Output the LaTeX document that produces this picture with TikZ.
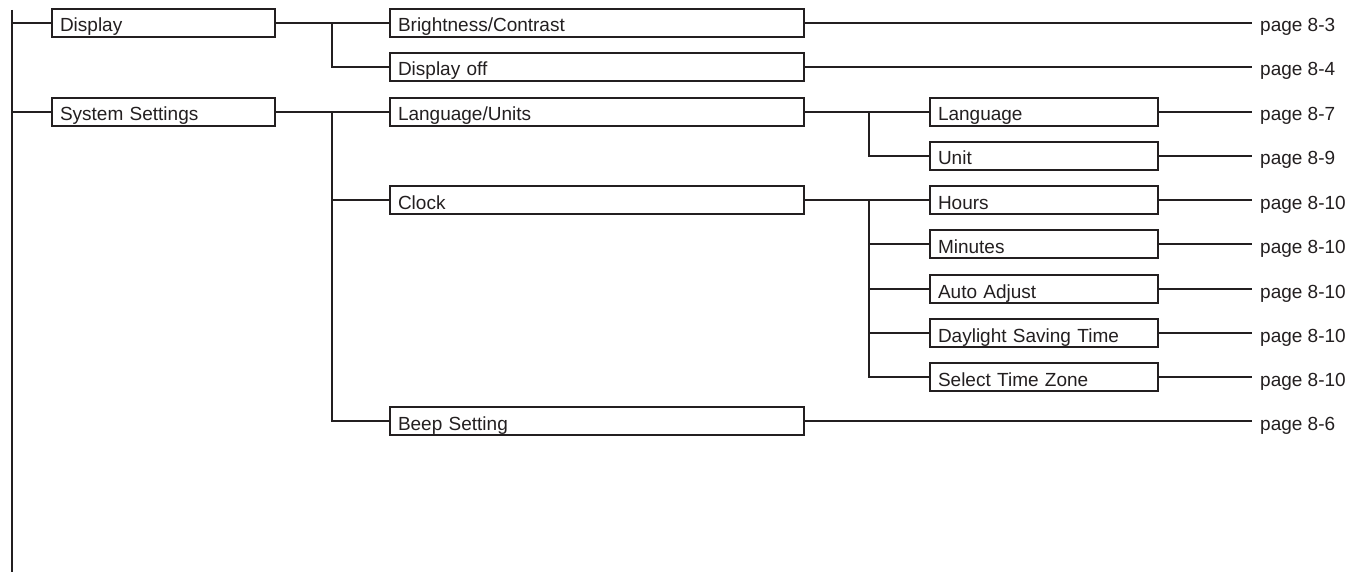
\documentclass[tikz,border=0pt]{standalone}
\usepackage{fontspec}
\setmainfont{Liberation Sans}
\definecolor{ink}{HTML}{231F20}
\begin{document}
\begin{tikzpicture}[x=1pt,y=-1pt,
  conn/.style={draw=ink, line width=2pt},
  box/.style={draw=ink, line width=2pt, anchor=west, minimum height=28pt,
    inner xsep=8pt, inner ysep=0pt, text height=18pt, text depth=0pt,
    align=left, font=\fontsize{19}{22}\selectfont, text=ink},
  boxA/.style={box, text width=207pt},
  boxB/.style={box, text width=398pt},
  boxC/.style={box, text width=212pt},
  pagelbl/.style={anchor=west, inner xsep=8pt, inner ysep=0pt, text height=18pt,
    text depth=0pt, font=\fontsize{19}{22}\selectfont, text=ink}
]
\useasboundingbox (0,0) rectangle (1356,572);
\fill[white] (0,0) rectangle (1356,572);

% positions
\coordinate (top) at (12,10);
\coordinate (bot) at (12,572);
\coordinate (jA) at (332,0);
\coordinate (jB) at (869,0);

% level 1
\node[boxA] (display) at (51,23) {Display};
\node[boxA] (sys) at (51,112) {System Settings};
% level 2
\node[boxB] (bright) at (389,23) {Brightness/Contrast};
\node[boxB] (off) at (389,67) {Display off};
\node[boxB] (lu) at (389,112) {Language/Units};
\node[boxB] (clock) at (389,200) {Clock};
\node[boxB] (beep) at (389,421) {Beep Setting};
% level 3
\node[boxC] (lang) at (929,112) {Language};
\node[boxC] (unit) at (929,156) {Unit};
\node[boxC] (hours) at (929,200) {Hours};
\node[boxC] (mins) at (929,244) {Minutes};
\node[boxC] (auto) at (929,289) {Auto Adjust};
\node[boxC] (dst) at (929,333) {Daylight Saving Time};
\node[boxC] (stz) at (929,377) {Select Time Zone};
% page labels
\node[pagelbl] (p1) at (1252,23) {page 8-3};
\node[pagelbl] (p2) at (1252,67) {page 8-4};
\node[pagelbl] (p3) at (1252,112) {page 8-7};
\node[pagelbl] (p4) at (1252,156) {page 8-9};
\node[pagelbl] (p5) at (1252,200) {page 8-10};
\node[pagelbl] (p6) at (1252,244) {page 8-10};
\node[pagelbl] (p7) at (1252,289) {page 8-10};
\node[pagelbl] (p8) at (1252,333) {page 8-10};
\node[pagelbl] (p9) at (1252,377) {page 8-10};
\node[pagelbl] (p10) at (1252,421) {page 8-6};

% main trunk
\draw[conn] (top) -- (bot);
\draw[conn] (display.west -| top) -- (display.west);
\draw[conn] (sys.west -| top) -- (sys.west);

% display branch
\draw[conn] (display.east) -- (bright.west);
\draw[conn] (display.east -| jA) |- (off.west);

% system settings branch
\draw[conn] (sys.east) -- (lu.west);
\draw[conn] (sys.east -| jA) |- (clock.west);
\draw[conn] (sys.east -| jA) |- (beep.west);

% language/units branch
\draw[conn] (lu.east) -- (lang.west);
\draw[conn] (lu.east -| jB) |- (unit.west);

% clock branch
\draw[conn] (clock.east) -- (hours.west);
\draw[conn] (clock.east -| jB) |- (stz.west);
\draw[conn] (mins.west -| jB) -- (mins.west);
\draw[conn] (auto.west -| jB) -- (auto.west);
\draw[conn] (dst.west -| jB) -- (dst.west);

% page lines
\draw[conn] (bright.east) -- (p1.west);
\draw[conn] (off.east) -- (p2.west);
\draw[conn] (lang.east) -- (p3.west);
\draw[conn] (unit.east) -- (p4.west);
\draw[conn] (hours.east) -- (p5.west);
\draw[conn] (mins.east) -- (p6.west);
\draw[conn] (auto.east) -- (p7.west);
\draw[conn] (dst.east) -- (p8.west);
\draw[conn] (stz.east) -- (p9.west);
\draw[conn] (beep.east) -- (p10.west);
\end{tikzpicture}
\end{document}
